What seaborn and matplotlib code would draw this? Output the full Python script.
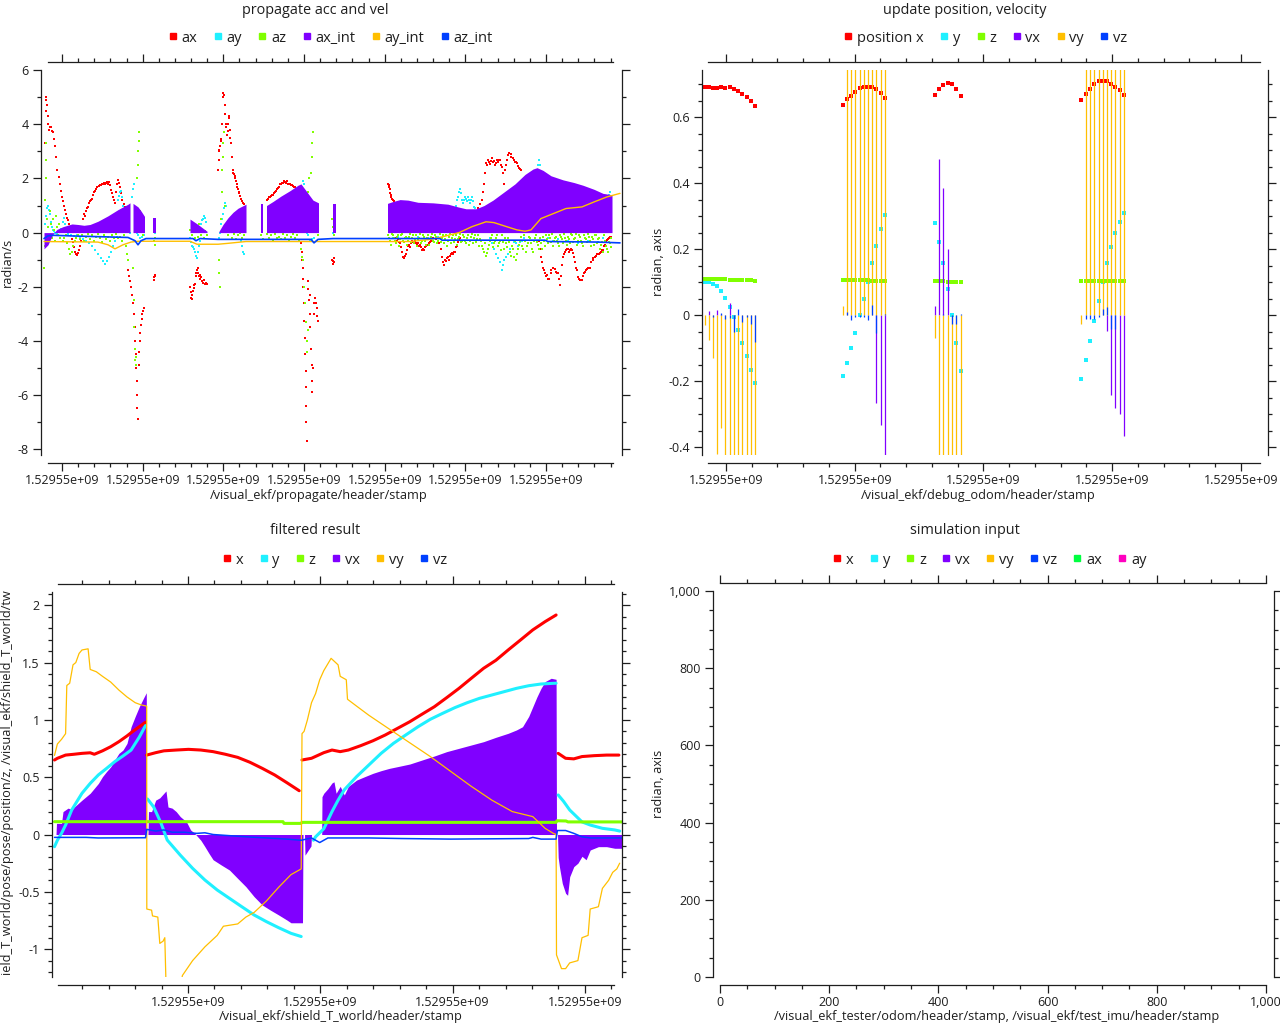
import numpy as np
import matplotlib
matplotlib.use("Agg")
import matplotlib.pyplot as plt
import seaborn as sns
from matplotlib.ticker import FixedLocator, MultipleLocator, FuncFormatter
from matplotlib.lines import Line2D
from matplotlib.transforms import Bbox, TransformedBbox

# ---------------------------------------------------------------- data
STAMP_BASE = 1529550000.0   # header stamps (s); series below are offsets in s

# ---- propagate acc and vel (offset s, value)
AX_PTS = [
(-0.29,3.3),(-0.25,4.5),(-0.21,5.0),(-0.17,4.9),(-0.09,4.7),(0.0,4.3),(0.04,4.0),(0.12,3.8),(0.2,3.9),(0.33,3.9),(0.43,3.75),(0.53,3.7),(0.63,3.45),(0.74,3.2),(0.84,2.8),(0.94,2.3),(1.05,2.05),(1.15,1.8),(1.25,1.55),(1.35,1.3),(1.45,1.15),(1.56,1.0),(1.66,0.85),(1.76,0.7),(1.87,0.55),(1.97,0.45),(2.07,0.3),(2.17,0.1),(2.3,-0.1),(2.4,-0.25),(2.5,-0.35),(2.6,-0.55),(2.7,-0.7),(2.79,-0.8),(2.9,-0.82),(2.99,-0.75),(3.1,-0.65),(3.2,-0.5),(3.3,-0.3),(3.4,0.2),(3.5,0.5),(3.61,0.7),(3.71,0.62),(3.81,0.8),(3.92,0.9),(4.02,0.95),(4.12,1.1),(4.23,1.15),(4.33,1.2),(4.43,1.25),(4.53,1.4),(4.64,1.5),(4.74,1.55),(4.84,1.6),(4.94,1.7),(5.05,1.72),(5.15,1.75),(5.25,1.75),(5.35,1.8),(5.46,1.78),(5.56,1.82),(5.66,1.8),(5.76,1.85),(5.87,1.88),(5.97,1.8),(6.07,1.88),(6.17,1.75),(6.27,1.57),(6.38,1.45),(6.48,1.32),(6.58,1.2),(6.68,1.08),(6.8,1.5),(6.9,1.8),(7.01,1.95),(7.09,1.85),(7.17,1.7),(7.3,1.45),(7.42,1.2),(7.55,1.05),(7.71,0.95),
(7.99,-1.4),(8.1,-1.6),(8.16,-1.8),(8.28,-2.0),(8.4,-2.3),(8.5,-2.6),(8.61,-3.0),(8.67,-3.5),(8.73,-4.0),(8.77,-4.5),(8.81,-5.0),(8.85,-5.5),(8.89,-6.0),(8.94,-6.5),(8.98,-6.9),(9.06,-4.9),(9.14,-4.4),(9.18,-4.0),(9.22,-3.7),(9.3,-3.4),(9.35,-3.2),(9.42,-3.0),(9.47,-2.9),(9.55,-2.8),
(10.58,-1.75),(10.62,-1.65),(10.66,-1.6),(10.7,-1.55),
(14.18,-2.0),(14.25,-2.2),(14.3,-2.4),(14.35,-2.45),(14.42,-2.3),(14.47,-2.15),(14.55,-2.05),(14.62,-1.95),(14.68,-1.9),(14.75,-1.6),(14.82,-1.5),(14.88,-1.4),(14.95,-1.3),(15.02,-1.5),(15.09,-1.6),(15.15,-1.55),(15.22,-1.7),(15.29,-1.65),(15.4,-1.8),(15.5,-1.85),(15.6,-1.75),(15.7,-1.9),(15.8,-1.85),(15.91,-1.9),
(17.01,2.3),(17.05,2.7),(17.1,3.0),(17.14,3.05),(17.2,3.2),(17.26,3.4),(17.34,3.45),(17.4,4.0),(17.46,5.0),(17.52,5.15),(17.59,5.1),(17.65,4.7),(17.71,4.4),(17.77,4.0),(17.83,3.9),(17.9,3.6),(17.95,3.75),(18.0,4.0),(18.06,4.25),(18.1,4.3),(18.16,3.8),(18.22,3.5),(18.3,3.3),(18.37,2.8),(18.45,2.3),(18.5,2.2),(18.57,2.15),(18.65,2.1),(18.72,2.0),(18.78,1.9),(18.85,1.8),(18.92,1.7),(18.98,1.6),(19.05,1.5),(19.12,1.45),(19.19,1.35),(19.27,1.25),(19.39,1.15),(19.5,1.1),(19.6,1.05),
(21.85,1.2),(21.95,1.25),(22.05,1.3),(22.16,1.3),(22.26,1.35),(22.36,1.4),(22.47,1.4),(22.57,1.45),(22.67,1.5),(22.77,1.55),(22.88,1.6),(22.98,1.65),(23.08,1.7),(23.18,1.78),(23.29,1.8),(23.39,1.85),(23.49,1.82),(23.59,1.9),(23.7,1.88),(23.8,1.85),(23.9,1.9),(24.0,1.8),(24.1,1.78),(24.2,1.8),(24.31,1.76),(24.41,1.75),(24.51,1.72),(24.61,1.7),(24.72,1.7),
(25.34,-0.4),(25.38,-0.7),(25.42,-1.0),(25.46,-1.3),(25.5,-1.7),(25.54,-2.0),(25.58,-2.6),(25.62,-3.25),(25.66,-3.9),(25.7,-4.5),(25.75,-5.1),(25.79,-5.7),(25.81,-6.4),(25.83,-7.0),(25.86,-7.7),(25.95,-1.8),(26.02,-2.1),(26.08,-2.5),(26.16,-2.3),(26.2,-3.0),(26.24,-3.5),(26.3,-4.3),(26.36,-4.9),(26.4,-5.5),(26.44,-5.9),(26.5,-5.0),(26.57,-3.0),(26.62,-2.6),(26.68,-2.4),(26.77,-2.6),(26.85,-2.8),(26.9,-3.1),(26.98,-3.25),
(28.4,-1.0),(28.45,-1.05),(28.5,-1.15),(28.55,-1.1),(28.6,-0.95),
(33.99,1.8),(34.05,1.75),(34.1,1.7),(34.15,1.6),(34.2,1.45),(34.26,1.4),(34.31,1.3),(34.36,1.25),(34.45,1.2),(34.56,1.15),(34.6,0.8),(34.65,0.4),(34.7,0.1),
(34.77,-0.2),(34.87,-0.3),(34.97,-0.25),(35.08,-0.35),(35.18,-0.4),(35.3,-0.55),(35.4,-0.7),(35.5,-0.9),(35.6,-0.95),(35.7,-0.85),(35.79,-0.8),(35.9,-0.65),(36.0,-0.5),(36.1,-0.45),(36.2,-0.53),(36.3,-0.4),(36.4,-0.3),(36.5,-0.35),(36.61,-0.35),(36.72,-0.3),(36.82,-0.38),(36.92,-0.45),(37.02,-0.4),(37.12,-0.5),(37.23,-0.45),(37.33,-0.55),(37.43,-0.65),(37.54,-0.6),(37.64,-0.65),(37.74,-0.55),(37.84,-0.5),(37.95,-0.45),(38.05,-0.4),(38.15,-0.35),(38.3,-0.3),(38.5,-0.2),(38.8,-0.25),(39.1,-0.4),(39.28,-0.6),(39.38,-0.9),(39.48,-1.1),(39.58,-1.2),(39.69,-1.0),(39.79,-1.05),(39.89,-0.95),(39.99,-0.9),(40.1,-1.0),(40.2,-0.85),(40.3,-0.8),(40.4,-0.75),(40.5,-0.8),(40.61,-0.7),(40.71,-0.7),(40.81,-0.55),(40.92,-0.5),(41.0,-0.35),(41.1,-0.25),(41.2,-0.2),
(42.5,0.3),(42.8,0.6),(43.0,0.9),(43.2,1.05),(43.38,1.2),(43.48,1.5),(43.58,1.8),(43.69,2.2),(43.79,2.56),(43.89,2.5),(43.99,2.7),(44.1,2.6),(44.2,2.55),(44.3,2.65),(44.4,2.75),(44.5,2.6),(44.6,2.65),(44.71,2.5),(44.81,2.56),(44.91,2.7),(45.01,2.6),(45.12,2.7),(45.22,2.7),(45.32,2.5),(45.43,2.44),(45.53,2.2),(45.63,1.8),(45.73,2.3),(45.83,2.5),(45.94,2.7),(46.04,2.87),(46.14,2.93),(46.25,2.9),(46.35,2.8),(46.45,2.75),(46.55,2.7),(46.66,2.6),(46.76,2.6),(46.86,2.56),(46.96,2.45),(47.07,2.4),(47.17,2.35),(47.27,2.3),
(49.12,-0.3),(49.2,-0.6),(49.3,-0.9),(49.4,-1.1),(49.5,-1.3),(49.6,-1.4),(49.73,-1.5),(49.84,-1.6),(49.94,-1.55),(50.04,-1.7),(50.14,-1.7),(50.25,-1.5),(50.35,-1.4),(50.45,-1.3),(50.55,-1.3),(50.65,-1.35),(50.76,-1.45),(50.86,-1.5),(50.96,-1.5),(51.06,-1.7),(51.17,-1.95),(51.27,-1.6),(51.37,-1.2),(51.47,-0.9),(51.58,-0.8),(51.7,-0.7),(51.8,-0.65),(51.9,-0.6),(51.99,-0.6),(52.1,-0.7),(52.2,-0.65),(52.3,-0.6),(52.4,-0.65),(52.5,-0.75),(52.6,-0.9),(52.7,-1.1),(52.8,-1.3),(52.9,-1.4),(53.01,-1.65),(53.11,-1.7),(53.21,-1.75),(53.32,-1.75),(53.42,-1.77),(53.52,-1.6),(53.62,-1.5),(53.73,-1.45),(53.83,-1.4),(53.93,-1.35),(54.03,-1.3),(54.14,-1.3),(54.24,-1.3),(54.34,-1.1),(54.45,-1.0),(54.55,-0.95),(54.65,-0.9),(54.75,-0.85),(54.86,-0.8),(54.96,-0.8),(55.06,-0.8),(55.16,-0.75),(55.27,-0.7),(55.37,-0.65),(55.47,-0.65),(55.57,-0.5),(55.68,-0.45),(55.78,-0.35),(55.88,-0.28),(55.98,-0.25),(56.09,-0.2),(56.19,-0.16),(56.29,-0.16),
]

AY_PTS = [
(-0.29,0.3),(-0.2,0.6),(-0.1,0.9),(0.0,1.0),(0.08,0.85),(0.16,0.7),(0.25,0.4),(0.35,0.2),(0.45,0.1),(0.55,0.05),(0.7,0.0),(0.9,-0.05),(1.1,0.05),(1.3,0.15),(1.5,0.4),(1.6,0.55),(1.7,0.3),(1.8,0.1),
(2.0,-0.05),(2.3,-0.1),(2.6,-0.12),(2.9,-0.1),(3.2,-0.15),(3.5,-0.25),(3.8,-0.3),(4.1,-0.4),(4.4,-0.5),(4.7,-0.65),(5.0,-0.8),(5.3,-0.95),(5.5,-1.05),(5.7,-1.15),(5.9,-1.05),(6.1,-0.9),(6.3,-0.7),(6.5,-0.5),(6.7,-0.3),(6.85,-0.15),
(6.95,1.2),(7.05,1.35),(7.15,1.5),(7.25,1.55),(7.35,1.3),(7.5,1.0),(7.65,0.8),(7.8,0.5),(8.0,0.3),(8.2,0.0),(8.4,1.3),(8.5,1.6),(8.6,1.8),(8.75,0.2),(8.9,0.0),(9.0,-0.1),(9.2,-0.2),(9.4,-0.15),(9.6,-0.1),(10.58,0.2),(10.7,0.0),
(14.18,-0.2),(14.25,-0.35),(14.35,-0.5),(14.45,-0.55),(14.55,-0.6),(14.65,-0.7),(14.75,-0.85),(14.85,-0.95),(14.95,-0.7),(15.05,-0.5),(15.15,-0.3),(15.3,0.3),(15.4,0.45),(15.5,0.5),(15.6,0.6),(15.7,0.55),(15.8,0.4),
(17.1,-0.2),(17.2,0.0),(17.3,0.3),(17.4,0.5),(17.5,0.7),(17.6,0.9),(17.7,1.1),(17.8,1.0),(19.3,-0.3),(19.4,-0.5),(19.5,-0.7),(19.6,-0.8),
(25.5,1.9),(25.6,1.8),(25.7,1.5),(25.8,1.3),(25.9,0.0),(26.0,-0.1),(26.2,-0.3),(26.4,-0.25),(26.6,-0.2),(28.5,0.0),(28.6,-0.1),
(34.0,-0.1),(34.5,-0.2),(35.0,-0.15),(36.0,-0.2),(37.0,-0.15),(38.0,-0.2),(39.0,-0.15),
(40.8,1.0),(40.9,1.2),(41.0,1.3),(41.1,1.5),(41.2,1.6),(41.3,1.45),(41.4,1.2),(41.5,1.1),(41.6,1.2),(41.7,1.3),(41.8,1.25),(41.9,1.15),(42.0,1.3),(42.1,1.2),(42.2,1.1),(42.3,1.2),(42.4,1.3),(42.5,1.15),(42.6,0.95),(42.7,0.9),
(44.2,-0.2),(44.4,-0.4),(44.6,-0.6),(44.8,-0.8),(45.0,-0.95),(45.2,-1.1),(45.4,-1.4),(45.5,-1.2),(45.6,-1.0),(45.8,-0.9),(46.0,-0.8),(46.2,-0.6),(46.4,-0.5),(46.6,-0.35),(46.8,-0.4),(47.0,-0.5),(47.2,-0.35),(47.4,-0.3),(47.6,-0.2),
(49.0,2.3),(49.05,2.5),(49.1,2.7),(49.2,2.5),
(50.0,-0.2),(50.5,-0.3),(51.0,-0.25),(51.5,-0.35),(52.0,-0.3),(53.0,-0.4),(54.0,-0.3),(55.0,-0.35),(55.5,-0.2),(56.1,1.4),(56.2,1.5),
]

AZ_PTS = [
(-0.37,-1.3),(-0.33,-0.5),(-0.29,1.2),(-0.25,2.0),(-0.21,2.7),(-0.17,3.3),(-0.13,0.5),(-0.05,0.2),(0.05,-0.3),(0.15,0.8),(0.25,0.3),(0.35,-0.2),(0.45,0.5),(0.55,0.1),(0.65,-0.3),(0.75,0.6),(0.85,0.2),(0.95,-0.1),(1.05,0.3),(1.15,-0.2),(1.3,0.1),(1.45,-0.3),(1.6,-0.2),(1.75,-0.1),(1.9,-0.4),(2.05,-0.6),(2.2,-0.8),(2.35,-0.7),(2.5,-0.5),(2.65,-0.3),(2.8,-0.2),(3.0,-0.1),(3.2,-0.25),(3.4,-0.1),(3.6,-0.3),(3.8,-0.15),(4.0,-0.05),(4.2,-0.25),(4.4,-0.1),(4.6,-0.3),(4.8,-0.15),(5.0,-0.05),(5.2,-0.2),(5.4,-0.35),(5.6,-0.1),(5.8,-0.25),(6.0,-0.15),(6.2,-0.3),(6.4,-0.1),(6.6,-0.2),(6.8,-0.05),(7.0,-0.2),(7.2,-0.15),(7.4,-0.3),(7.6,-0.1),(7.8,-0.5),(7.9,-0.8),(8.0,-1.0),
(8.5,-1.3),(8.55,-2.5),(8.6,-3.5),(8.65,-4.3),(8.7,-4.7),(8.75,-4.9),(8.8,-4.6),(8.9,2.0),(8.95,2.5),(9.0,3.0),(9.05,3.4),(9.1,3.7),(9.15,0.8),(9.25,0.4),(9.35,0.1),(9.45,-0.1),(9.55,0.2),(10.58,-0.3),(10.65,-0.45),(10.72,-0.2),
(14.2,0.1),(14.35,-0.1),(14.5,0.2),(14.65,-0.2),(14.8,0.05),(14.95,-0.15),(15.1,0.3),(15.25,-0.1),(15.4,0.1),(15.55,-0.2),(15.7,0.05),(15.85,-0.1),
(17.05,-1.0),(17.12,-1.5),(17.18,-2.0),(17.3,0.5),(17.35,1.5),(17.42,2.3),(17.48,2.8),(17.54,3.3),(17.6,3.7),(17.7,1.0),(17.85,0.2),(18.0,-0.1),(18.2,0.1),(18.4,-0.2),(18.6,-0.05),(18.8,-0.25),(19.0,-0.1),(19.2,0.0),(19.4,-0.2),(19.6,-0.1),
(21.3,-0.1),(21.45,-0.25),(21.9,-0.05),(22.1,-0.2),(22.3,-0.1),(22.5,-0.3),(22.7,-0.05),(22.9,-0.2),(23.1,-0.15),(23.3,-0.25),(23.5,-0.05),(23.7,-0.2),(23.9,-0.1),(24.1,-0.3),(24.3,-0.15),(24.5,-0.05),(24.7,-0.2),(24.9,-0.1),(25.1,-0.3),(25.3,-0.6),(25.4,-0.9),(25.5,-1.0),(25.62,-2.0),(25.7,-2.6),(25.78,-3.3),(25.85,-4.0),(25.9,-4.4),(25.95,-3.6),(26.0,1.5),(26.05,2.0),(26.3,2.2),(26.36,2.8),(26.42,3.3),(26.48,3.7),(26.55,1.0),(26.7,0.2),(26.9,-0.3),(27.0,-0.1),
(28.4,0.5),(28.5,0.2),(28.6,-0.1),
(34.0,-0.1),(34.2,-0.3),(34.4,-0.05),(34.6,-0.2),(34.8,-0.4),(35.0,-0.1),(35.2,-0.25),(35.4,-0.05),(35.6,-0.35),(35.8,-0.15),(36.0,-0.3),(36.2,-0.05),(36.4,-0.2),(36.6,-0.4),(36.8,-0.1),(37.0,-0.25),(37.2,-0.05),(37.4,-0.3),(37.6,-0.15),(37.8,-0.45),(38.0,-0.1),(38.2,-0.25),(38.4,-0.05),(38.6,-0.35),(38.8,-0.15),(39.0,-0.3),(39.2,-0.05),(39.4,-0.2),(39.6,-0.4),(39.8,-0.1),(40.0,-0.3),(40.2,-0.05),(40.4,-0.2),(40.6,-0.35),(40.8,-0.1),(41.0,-0.25),(41.2,-0.05),(41.4,-0.3),(41.6,-0.15),(41.8,-0.4),(42.0,-0.1),(42.2,-0.3),(42.4,-0.05),(42.6,-0.2),(42.8,-0.35),(43.0,-0.1),(43.2,-0.25),(43.4,-0.5),(43.6,-0.7),(43.8,-0.85),(44.0,-0.6),(44.2,-0.3),(44.4,-0.1),(44.6,-0.4),(44.8,-0.2),(45.0,-0.5),(45.2,-0.3),(45.4,-0.1),(45.6,-0.6),(45.8,-0.4),(46.0,-0.2),(46.2,-0.7),(46.4,-0.5),(46.6,-0.9),(46.8,-1.0),(47.0,-0.6),(47.2,-0.3),(47.4,-0.5),(47.6,-0.1),(47.8,-0.7),(48.0,-0.4),(48.2,-0.2),(48.4,-0.6),(48.6,-0.3),(48.8,-0.1),(49.0,-0.45),(49.2,-0.2),(49.4,-0.6),(49.6,-0.3),(49.8,-0.1),(50.0,-0.4),(50.2,-0.2),(50.4,-0.05),(50.6,-0.3),(50.8,-0.15),(51.0,-0.4),(51.2,-0.1),(51.4,-0.25),(51.6,-0.05),(51.8,-0.3),(52.0,-0.15),(52.2,-0.4),(52.4,-0.1),(52.6,-0.25),(52.8,-0.05),(53.0,-0.3),(53.2,-0.15),(53.4,-0.4),(53.6,-0.1),(53.8,-0.25),(54.0,-0.05),(54.2,-0.3),(54.4,-0.15),(54.6,-0.45),(54.8,-0.1),(55.0,-0.25),(55.2,-0.6),(55.4,-0.35),(55.6,-0.1),(55.8,-0.5),(56.0,-0.7),(56.2,-0.4),(56.35,-0.2),
(34.1,-0.2),(34.3,-0.45),(34.5,-0.1),(34.7,-0.3),(34.9,-0.15),(35.1,-0.5),(35.3,-0.1),(35.5,-0.3),(35.7,-0.2),(35.9,-0.45),(36.1,-0.15),(36.3,-0.35),(36.5,-0.1),(36.7,-0.25),(36.9,-0.5),(37.1,-0.2),(37.3,-0.4),(37.5,-0.1),(37.7,-0.3),(37.9,-0.2),(38.1,-0.45),(38.3,-0.15),(38.5,-0.3),(38.7,-0.1),(38.9,-0.4),(39.1,-0.2),(39.3,-0.35),(39.5,-0.1),(39.7,-0.25),(39.9,-0.5),(40.1,-0.15),(40.3,-0.4),(40.5,-0.1),(40.7,-0.25),(40.9,-0.45),(41.1,-0.15),(41.3,-0.35),(41.5,-0.1),(41.7,-0.3),(41.9,-0.2),(42.1,-0.45),(42.3,-0.15),(42.5,-0.4),(42.7,-0.1),(42.9,-0.25),(43.1,-0.5),(43.3,-0.3),(43.5,-0.6),(43.7,-0.4),(43.9,-0.75),(44.1,-0.45),(44.3,-0.2),(44.5,-0.55),(44.7,-0.3),(44.9,-0.1),(45.1,-0.4),(45.3,-0.65),(45.5,-0.35),(45.7,-0.2),(45.9,-0.55),(46.1,-0.35),(46.3,-0.85),(46.5,-0.6),(46.7,-0.3),(46.9,-0.8),(47.1,-0.45),(47.3,-0.15),(47.5,-0.6),(47.7,-0.3),(47.9,-0.5),(48.1,-0.15),(48.3,-0.4),(48.5,-0.7),(48.7,-0.2),(48.9,-0.35),(49.1,-0.6),(49.3,-0.4),(49.5,-0.15),(49.7,-0.5),(49.9,-0.25),(50.1,-0.1),(50.3,-0.35),(50.5,-0.5),(50.7,-0.2),(50.9,-0.3),(51.1,-0.5),(51.3,-0.15),(51.5,-0.4),(51.7,-0.2),(51.9,-0.45),(52.1,-0.25),(52.3,-0.05),(52.5,-0.35),(52.7,-0.2),(52.9,-0.45),(53.1,-0.1),(53.3,-0.3),(53.5,-0.5),(53.7,-0.2),(53.9,-0.35),(54.1,-0.15),(54.3,-0.5),(54.5,-0.25),(54.7,-0.1),(54.9,-0.4),(55.1,-0.2),(55.3,-0.45),(55.5,-0.7),(55.7,-0.3),(55.9,-0.6),(56.1,-0.35),(56.3,-0.55),
]

# None marks a break between message bursts
AXINT_PTS = [
(-0.4,-0.6),(0.0,-0.45),(0.3,-0.2),(0.6,0.0),(0.9,0.12),(1.5,0.22),(2.4,0.32),(3.0,0.3),(3.6,0.27),(4.2,0.3),(5.0,0.42),(6.0,0.62),(7.0,0.85),(8.0,1.05),(8.2,1.1), None,
(8.5,1.08),(9.0,0.95),(9.3,0.8),(9.65,0.6), None,
(10.5,0.55),(10.8,0.55), None,
(14.2,0.5),(15.0,0.3),(15.9,0.05), None,
(17.1,0.05),(17.5,0.3),(18.0,0.55),(18.5,0.75),(19.0,0.9),(19.8,1.05), None,
(21.3,1.05),(21.5,1.05), None,
(21.85,1.0),(22.5,1.15),(23.3,1.35),(24.2,1.55),(25.0,1.75),(25.3,1.8),(25.8,1.55),(26.5,1.2),(27.05,1.1), None,
(28.5,1.05),(28.8,1.05), None,
(33.95,1.08),(34.5,1.15),(35.2,1.22),(36.0,1.2),(37.0,1.12),(38.5,1.1),(40.0,1.05),(41.0,0.95),(41.8,0.88),(42.8,0.88),(43.6,1.0),(44.5,1.2),(45.6,1.5),(46.7,1.8),(47.7,2.15),(48.5,2.35),(48.9,2.4),(49.5,2.3),(50.3,2.1),(51.5,1.95),(52.6,1.85),(53.5,1.75),(54.6,1.6),(55.5,1.45),(56.4,1.4),
]

AYINT_PTS = [
(-0.4,-0.33),(5.0,-0.35),(6.0,-0.45),(6.7,-0.6),(7.5,-0.45),(8.3,-0.35),(9.0,-0.32),(14.2,-0.32),(14.9,-0.43),(17.0,-0.43),(17.9,-0.4),(19.8,-0.33),(36.2,-0.33),(38.3,-0.25),(39.5,-0.15),(41.1,0.0),(42.4,0.22),(43.8,0.4),(44.6,0.37),(45.6,0.25),(46.9,0.1),(47.7,0.05),(48.3,0.1),(49.3,0.52),(51.8,0.89),(53.4,0.95),(54.65,1.14),(55.9,1.32),(57.2,1.45),
]

AZINT_PTS = [
(-0.4,-0.22),(0.0,-0.12),(0.5,-0.1),(3.0,-0.13),(8.0,-0.18),(8.7,-0.3),(9.0,-0.45),(9.3,-0.3),(9.8,-0.22),(14.5,-0.22),(14.8,-0.3),(15.2,-0.22),(17.0,-0.25),(26.3,-0.25),(26.6,-0.38),(27.0,-0.25),(28.5,-0.22),(39.2,-0.22),(39.4,-0.28),(49.7,-0.28),(50.0,-0.33),(55.0,-0.35),(57.2,-0.38),
]

# ---- update position, velocity (debug_odom messages)
ODOM_T = [-0.32,0.09,0.5,0.9,1.31,1.72,2.22,2.63,3.04,3.45,3.86,4.27,4.68,
          13.49,13.9,14.31,14.72,15.21,15.62,16.03,16.44,16.85,17.26,17.67,
          22.71,23.12,23.53,23.98,24.43,24.84,25.29,
          37.34,37.79,38.2,38.61,39.06,39.51,39.92,40.33,40.74,41.15,41.6]
ODOM_X = [0.692,0.692,0.69,0.688,0.691,0.688,0.692,0.685,0.679,0.672,0.661,0.65,0.633,
          0.636,0.654,0.665,0.677,0.689,0.692,0.692,0.692,0.687,0.674,0.659,
          0.667,0.685,0.697,0.704,0.70,0.685,0.664,
          0.652,0.67,0.687,0.702,0.71,0.71,0.71,0.70,0.692,0.682,0.669]
ODOM_Y = [0.101,0.10,0.095,0.088,0.074,0.053,0.025,-0.005,-0.045,-0.084,-0.124,-0.167,-0.205,
          -0.185,-0.145,-0.10,-0.054,0.0,0.048,0.10,0.159,0.21,0.262,0.303,
          0.28,0.222,0.157,0.08,0.002,-0.084,-0.17,
          -0.193,-0.135,-0.078,-0.017,0.043,0.101,0.159,0.207,0.25,0.283,0.311]
ODOM_Z = [0.11,0.11,0.11,0.11,0.11,0.11,0.108,0.107,0.107,0.107,0.107,0.107,0.104,
          0.106,0.106,0.106,0.106,0.106,0.106,0.106,0.105,0.105,0.104,0.104,
          0.103,0.103,0.103,0.102,0.102,0.10,0.10,
          0.103,0.103,0.103,0.103,0.103,0.103,0.103,0.104,0.104,0.104,0.104]
ODOM_VX = [0.0,0.012,0.0,0.017,0.005,0.0,0.037,-0.01,0.0,0.0,0.0,0.0,0.0,
           0.0,0.0,0.0,0.0,0.0,0.0,0.0,0.0,-0.266,-0.333,-0.6,
           0.028,0.475,0.385,0.2,0.0,0.0,0.0,
           0.0,0.0,0.0,0.0,0.0,0.0,-0.048,-0.24,-0.28,-0.30,-0.365]
ODOM_VY = [-0.03,-0.075,-0.13,-0.42,-0.34,-0.6,-0.6,-0.6,-0.6,-0.6,-0.6,-0.6,-0.6,
           0.027,0.9,0.9,0.9,0.9,0.9,0.9,0.9,0.9,0.9,0.9,
           -0.07,-0.6,-0.6,-0.6,-0.6,-0.6,-0.6,
           -0.025,0.9,0.9,0.9,0.9,0.9,0.9,0.9,0.9,0.9,0.9]
ODOM_VZ = [0.0,0.0,-0.005,0.0,0.008,-0.01,-0.008,-0.05,0.02,-0.02,-0.005,-0.025,-0.08,
           0.0,0.01,-0.015,-0.005,-0.005,-0.005,-0.015,0.03,-0.055,0.0,0.003,
           0.0,0.0,0.003,0.0,-0.025,-0.025,0.003,
           0.0,-0.012,-0.01,-0.01,-0.005,0.018,0.025,-0.04,-0.04,0.0,0.0]

# ---- filtered result (shield_T_world)
F_X_PTS = [
(-0.35,0.65),(-0.06,0.665),(0.76,0.693),(1.58,0.70),(2.4,0.708),(3.22,0.713),(3.63,0.70),(4.45,0.73),(5.27,0.766),(6.09,0.81),(6.9,0.86),(7.31,0.888),(8.75,0.98), None,
(8.87,0.693),(9.77,0.714),(10.59,0.73),(11.82,0.737),(13.05,0.743),(14.28,0.737),(15.51,0.723),(16.74,0.70),(17.97,0.673),(19.2,0.63),(20.43,0.577),(21.66,0.52),(22.89,0.452),(24.12,0.382), None,
(24.4,0.65),(25.35,0.665),(26.58,0.714),(27.4,0.737),(28.22,0.723),(29.04,0.737),(30.27,0.775),(31.5,0.818),(32.72,0.868),(33.95,0.926),(35.18,0.984),(36.41,1.05),(37.64,1.115),(38.87,1.194),(40.1,1.275),(41.33,1.363),(42.56,1.45),(43.79,1.52),(45.02,1.61),(46.25,1.697),(47.48,1.785),(48.71,1.857),(49.81,1.915), None,
(50.02,0.708),(50.76,0.665),(51.58,0.66),(52.4,0.68),(53.63,0.688),(54.86,0.693),(56.09,0.693),
]
F_Y_PTS = [
(-0.35,-0.106),(-0.06,-0.05),(0.35,0.01),(0.76,0.083),(1.37,0.214),(2.4,0.36),(3.22,0.446),(4.04,0.52),(4.86,0.577),(5.68,0.636),(6.5,0.685),(7.31,0.737),(8.13,0.85),(8.75,0.95), None,
(8.95,0.31),(9.57,0.24),(10.3,0.1),(10.92,-0.048),(12.23,-0.18),(13.46,-0.295),(14.69,-0.397),(15.92,-0.484),(17.15,-0.557),(18.38,-0.63),(19.61,-0.702),(20.84,-0.76),(22.07,-0.813),(23.3,-0.862),(24.32,-0.89), None,
(25.55,-0.05),(25.76,-0.02),(26.58,0.05),(27.4,0.2),(28.01,0.3),(28.63,0.39),(29.86,0.505),(31.09,0.607),(32.31,0.708),(33.54,0.795),(34.77,0.868),(36.0,0.94),(37.23,1.005),(38.46,1.057),(39.69,1.107),(40.92,1.15),(42.15,1.188),(43.38,1.217),(44.61,1.246),(45.84,1.275),(47.07,1.298),(48.3,1.313),(49.53,1.319),(49.81,1.32), None,
(50.02,0.345),(50.55,0.29),(51.17,0.214),(52.4,0.11),(53.22,0.083),(54.44,0.054),(55.67,0.04),(56.17,0.03),
]
F_Z_PTS = [
(-0.35,0.112),(22.5,0.112),(22.6,0.097),(24.3,0.097),(24.4,0.106),(49.8,0.106),(49.9,0.12),(50.8,0.118),(51.0,0.11),(56.4,0.11),
]
F_VX_PTS = [
(-0.2,0.0),(-0.15,0.097),(0.35,0.097),(0.5,0.2),(1.0,0.23),(1.37,0.22),(2.4,0.3),(3.22,0.36),(4.04,0.446),(4.45,0.505),(4.86,0.55),(5.27,0.59),(5.68,0.65),(6.09,0.708),(6.5,0.737),(6.9,0.795),(7.31,0.94),(7.72,1.03),(8.13,1.115),(8.54,1.188),(8.83,1.237),(8.86,0.0), None,
(9.0,0.0),(9.05,0.2),(9.36,0.2),(9.77,0.3),(10.18,0.32),(10.59,0.36),(10.8,0.38),(11.0,0.24),(11.41,0.23),(11.82,0.2),(12.23,0.156),(12.85,0.11),(13.26,0.04),(13.67,0.01),(14.28,-0.05),(14.69,-0.106),(15.1,-0.165),(15.51,-0.22),(16.33,-0.266),(17.15,-0.31),(17.97,-0.383),(18.79,-0.455),(19.61,-0.542),(20.43,-0.615),(21.25,-0.66),(22.07,-0.702),(22.89,-0.746),(23.3,-0.77),(24.45,-0.77),(24.5,0.0), None,
(24.65,0.0),(24.7,-0.18),(25.3,-0.1),(25.35,0.0), None,
(26.37,0.0),(26.4,0.33),(26.58,0.36),(26.99,0.4),(27.4,0.45),(27.6,0.46),(27.81,0.36),(28.22,0.42),(28.63,0.345),(29.04,0.42),(29.86,0.475),(30.68,0.505),(31.5,0.534),(32.31,0.557),(33.13,0.577),(33.95,0.592),(35.18,0.615),(36.41,0.65),(37.64,0.685),(38.87,0.723),(40.1,0.752),(41.33,0.781),(42.56,0.81),(43.79,0.848),(45.02,0.883),(45.84,0.912),(46.45,0.94),(47.07,1.03),(47.48,1.115),(47.89,1.2),(48.3,1.275),(48.71,1.334),(49.32,1.363),(49.81,1.354),(49.85,0.0), None,
(49.95,0.0),(50.02,-0.2),(50.14,-0.28),(50.43,-0.426),(50.76,-0.513),(50.96,-0.53),(51.17,-0.368),(51.58,-0.28),(51.99,-0.25),(52.4,-0.19),(52.81,-0.22),(53.22,-0.135),(54.04,-0.106),(54.86,-0.106),(55.67,-0.12),(56.4,-0.12),
]
F_VY_PTS = [
(-0.35,0.69),(-0.06,0.79),(0.35,0.83),(0.76,0.88),(0.88,1.3),(1.17,1.32),(1.5,1.48),(1.78,1.5),(2.11,1.58),(2.4,1.61),(3.01,1.62),(3.22,1.44),(3.83,1.42),(4.45,1.38),(5.27,1.33),(6.09,1.26),(6.9,1.2),(7.72,1.15),(8.34,1.13),(8.87,1.12),(8.88,-0.65),(9.36,-0.66),(9.45,-0.71),(9.98,-0.72),(10.18,-0.95),(10.51,-0.93),(10.68,-0.9),(10.8,-1.3), None,
(12.3,-1.3),(12.44,-1.23),(13.46,-1.1),(14.69,-0.98),(15.92,-0.88),(16.54,-0.8),(17.97,-0.78),(18.79,-0.72),(19.61,-0.68),(20.84,-0.58),(22.07,-0.46),(23.3,-0.35),(24.32,-0.3),(24.4,0.88),(24.61,0.9),(24.94,1.0),(25.35,1.15),(25.76,1.23),(26.17,1.35),(26.58,1.43),(26.99,1.49),(27.31,1.537),(28.01,1.48),(28.22,1.38),(28.83,1.35),(28.95,1.18),(29.86,1.12),(31.09,1.04),(33.13,0.92),(35.18,0.8),(37.23,0.68),(39.28,0.55),(41.33,0.42),(43.38,0.3),(45.43,0.2),(47.48,0.156),(48.71,0.054),(49.53,0.01),(49.81,0.0),(49.85,-1.05),(50.35,-1.17),(50.76,-1.17),(51.17,-1.12),(51.99,-1.1),(52.4,-0.9),(53.01,-0.88),(53.22,-0.65),(54.04,-0.63),(54.44,-0.47),(55.06,-0.4),(55.47,-0.33),(55.88,-0.3),(56.17,-0.25),
]
F_VZ_PTS = [
(-0.35,-0.025),(2.81,-0.025),(4.0,-0.03),(8.75,-0.028),(8.87,0.045),(9.77,0.03),(10.59,0.04),(11.41,0.02),(12.64,0.02),(13.87,0.01),(14.69,0.015),(15.51,0.0),(18.79,-0.02),(20.84,-0.03),(22.89,-0.04),(24.32,-0.05),(25.35,-0.03),(26.17,-0.07),(26.99,-0.03),(29.04,-0.03),(31.09,-0.03),(34.36,-0.035),(39.28,-0.04),(47.07,-0.035),(47.48,-0.025),(48.3,-0.04),(49.81,-0.04),(49.94,0.035),(50.76,0.035),(51.58,0.01),(52.4,-0.02),(53.22,-0.03),(56.4,-0.03),
]

# ---- texts
TITLES = ["propagate acc and vel", "update position, velocity", "filtered result", "simulation input"]
LEGEND_1 = ["ax", "ay", "az", "ax_int", "ay_int", "az_int"]
LEGEND_2 = ["position x", "y", "z", "vx", "vy", "vz"]
LEGEND_3 = ["x", "y", "z", "vx", "vy", "vz"]
LEGEND_4 = ["x", "y", "z", "vx", "vy", "vz", "ax", "ay"]
XLABELS = ["/visual_ekf/propagate/header/stamp", "/visual_ekf/debug_odom/header/stamp",
           "/visual_ekf/shield_T_world/header/stamp",
           "/visual_ekf_tester/odom/header/stamp, /visual_ekf/test_imu/header/stamp"]
# the third axis title is longer than its axis and shows clipped, as in the source
YLABELS = ["radian/s", "radian, axis",
           "/visual_ekf/shield_T_world/pose/pose/position/z, /visual_ekf/shield_T_world/twist/twist/linear/x",
           "radian, axis"]

# ---------------------------------------------------------------- style
sns.set_theme(style="white")
plt.rcParams["font.family"] = ["Open Sans", "DejaVu Sans"]
INK = "#1e1e1e"
RED, CYAN, GREEN, PURPLE, AMBER, BLUE, SPRING, ROSE = (
    "#ff0000", "#1ff0ff", "#80ff00", "#8000ff", "#ffbf00", "#0040ff", "#00ff40", "#ff00bf")

W, H = 1280, 1024
fig = plt.figure(figsize=(W / 100, H / 100), dpi=100)
fig.patch.set_facecolor("white")


def fx(px):
    return px / W


def fy(py):
    return 1 - py / H


def split(pts):
    segs, cur = [], []
    for p in pts:
        if p is None:
            if cur:
                segs.append(np.array(cur))
            cur = []
        else:
            cur.append(p)
    if cur:
        segs.append(np.array(cur))
    return segs


def dots(ax, pts, color, s=4.6):
    a = np.array([p for p in pts if p is not None])
    sns.scatterplot(x=STAMP_BASE + a[:, 0], y=a[:, 1], ax=ax, color=color, marker="s",
                    s=s, linewidth=0, legend=False)


def lines(ax, pts, color, lw):
    for seg in split(pts):
        sns.lineplot(x=STAMP_BASE + seg[:, 0], y=seg[:, 1], ax=ax, color=color, linewidth=lw,
                     estimator=None, sort=False, legend=False)


def area(ax, pts, color):
    for seg in split(pts):
        ax.fill_between(STAMP_BASE + seg[:, 0], 0, seg[:, 1], color=color, linewidth=0)


fmt_g = FuncFormatter(lambda v, p: "%g" % (round(v, 6) + 0.0))
fmt_comma = FuncFormatter(lambda v, p: f"{v:,.0f}")


def make_axes(canvas, backbone, xlim, ylim, xmaj, xmin, ymaj, ymin, xfmt, yfmt):
    x0, y0, x1, y1 = canvas
    ax = fig.add_axes([fx(x0), fy(y1), (x1 - x0) / W, (y1 - y0) / H])
    ax.set_facecolor("white")
    ax.grid(False)
    for name, sp in ax.spines.items():
        sp.set_visible(True)
        sp.set_color(INK)
        sp.set_linewidth(0.9)
    for name in ("top", "bottom"):
        ax.spines[name].set_position(("outward", 8 * 0.72))
        ax.spines[name].set_bounds(*backbone)
    ax.xaxis.set_major_locator(FixedLocator(xmaj))
    ax.xaxis.set_minor_locator(FixedLocator(xmin))
    ax.yaxis.set_major_locator(MultipleLocator(ymaj))
    ax.yaxis.set_minor_locator(MultipleLocator(ymin))
    ax.xaxis.set_major_formatter(xfmt)
    ax.yaxis.set_major_formatter(yfmt)
    ax.tick_params(which="both", direction="out", top=True, bottom=True, left=True, right=True,
                   labeltop=False, labelright=False, color=INK, width=0.9,
                   labelcolor=INK, labelsize=9)
    ax.tick_params(which="major", length=5.8)
    ax.tick_params(which="minor", length=2.9)
    ax.tick_params(axis="x", pad=2)
    ax.tick_params(axis="y", pad=3)
    ax._keep = (xlim, ylim)
    return ax


def finish(ax):
    xlim, ylim = ax._keep
    ax.set_xlim(*xlim)
    ax.set_ylim(*ylim)
    ax.set_xlabel("")
    ax.set_ylabel("")


def legend(labels, colors, cx, cy):
    handles = [Line2D([0], [0], marker="s", linestyle="", color=c, markersize=5.0, label=l)
               for l, c in zip(labels, colors)]
    fig.legend(handles=handles, loc="center", bbox_to_anchor=(fx(cx), fy(cy)),
               bbox_transform=fig.transFigure, ncol=len(handles), frameon=False,
               fontsize=10.5, handlelength=0.5, handletextpad=0.35, columnspacing=1.15,
               borderpad=0, borderaxespad=0, labelcolor=INK)


def stamp_ticks(first, step, nsub, lo, hi):
    maj = [STAMP_BASE + first + step * k for k in range(-5, 30)
           if lo - 1e-6 <= first + step * k <= hi + 1e-6]
    sub = step / nsub
    mnr = [STAMP_BASE + first + sub * k for k in range(-40, 200)
           if lo - 1e-6 <= first + sub * k <= hi + 1e-6]
    return maj, mnr


# ---------------------------------------------------------------- panel 1
maj, mnr = stamp_ticks(1.4, 8.067, 5, 0.0, 56.5)
ax1 = make_axes((41, 70, 622, 455), (STAMP_BASE, STAMP_BASE + 56.5),
                (STAMP_BASE - 0.7, STAMP_BASE + 57.4), (-8.22, 6.01),
                maj, mnr, 2, 1, fmt_g, fmt_g)
dots(ax1, AX_PTS, RED)
dots(ax1, AY_PTS, CYAN)
dots(ax1, AZ_PTS, GREEN)
area(ax1, AXINT_PTS, PURPLE)
lines(ax1, AYINT_PTS, AMBER, 1.0)
lines(ax1, AZINT_PTS, BLUE, 1.2)
finish(ax1)

# ---------------------------------------------------------------- panel 2
maj, mnr = stamp_ticks(1.8, 12.87, 5, 0.0, 55.2)
ax2 = make_axes((702, 70, 1268, 455), (STAMP_BASE, STAMP_BASE + 55.2),
                (STAMP_BASE - 0.6, STAMP_BASE + 56.0), (-0.4233, 0.7433),
                maj, mnr, 0.2, 0.05, fmt_g, fmt_g)
t2 = STAMP_BASE + np.array(ODOM_T)
sns.scatterplot(x=t2, y=ODOM_X, ax=ax2, color=RED, marker="s", s=5.5, linewidth=0, legend=False)
sns.scatterplot(x=t2, y=ODOM_Y, ax=ax2, color=CYAN, marker="s", s=5.5, linewidth=0, legend=False)
sns.scatterplot(x=t2, y=ODOM_Z, ax=ax2, color=GREEN, marker="s", s=5.5, linewidth=0, legend=False)
ax2.vlines(t2, 0, ODOM_VX, color=PURPLE, linewidth=0.9)
ax2.vlines(t2, 0, ODOM_VY, color=AMBER, linewidth=0.9)
ax2.vlines(t2, 0, ODOM_VZ, color=BLUE, linewidth=0.9)
finish(ax2)

# ---------------------------------------------------------------- panel 3
maj, mnr = stamp_ticks(13.0, 13.23, 5, 0.0, 55.6)
ax3 = make_axes((52, 591.5, 622, 977), (STAMP_BASE, STAMP_BASE + 55.6),
                (STAMP_BASE - 0.6, STAMP_BASE + 56.4), (-1.243, 2.12),
                maj, mnr, 0.5, 0.1, fmt_g, fmt_g)
lines(ax3, F_X_PTS, RED, 2.2)
lines(ax3, F_Y_PTS, CYAN, 2.2)
lines(ax3, F_Z_PTS, GREEN, 2.2)
area(ax3, F_VX_PTS, PURPLE)
lines(ax3, F_VY_PTS, AMBER, 0.9)
lines(ax3, F_VZ_PTS, BLUE, 1.1)
finish(ax3)

# ---------------------------------------------------------------- panel 4
ax4 = make_axes((713, 591, 1274, 977), (0, 1000), (-12.8, 1014.7), (0, 1000),
                list(range(0, 1001, 200)), list(range(0, 1001, 50)), 200, 50,
                fmt_comma, fmt_comma)
finish(ax4)

# ---------------------------------------------------------------- texts
for title, (cx, cy) in zip(TITLES, [(315, 10), (965, 10), (315, 531), (965, 531)]):
    fig.text(fx(cx), fy(cy), title, ha="center", va="center", fontsize=10.4, color=INK)

legend(LEGEND_1, [RED, CYAN, GREEN, PURPLE, AMBER, BLUE], 331, 38)
legend(LEGEND_2, [RED, CYAN, GREEN, PURPLE, AMBER, BLUE], 986, 38)
legend(LEGEND_3, [RED, CYAN, GREEN, PURPLE, AMBER, BLUE], 335, 560)
legend(LEGEND_4, [RED, CYAN, GREEN, PURPLE, AMBER, BLUE, SPRING, ROSE], 990, 560)

for lab, (cx, cy) in zip(XLABELS, [(319, 495.5), (978, 495.5), (341, 1016.5), (997, 1016.5)]):
    fig.text(fx(cx), fy(cy), lab, ha="center", va="center", fontsize=9.2, color=INK)

fig.text(fx(7.5), fy(262), YLABELS[0], rotation=90, ha="center", va="center", fontsize=9.2, color=INK)
fig.text(fx(659), fy(262), YLABELS[1], rotation=90, ha="center", va="center", fontsize=9.2, color=INK)
fig.text(fx(659), fy(784), YLABELS[3], rotation=90, ha="center", va="center", fontsize=9.2, color=INK)
ylab3 = fig.text(fx(8), fy(775), YLABELS[2], rotation=90, ha="center", va="center",
                 fontsize=9.2, color=INK, clip_on=True)
ylab3.set_clip_box(TransformedBbox(Bbox([[0.0, fy(977)], [fx(40), fy(591)]]), fig.transFigure))

fig.savefig("out.png", dpi=100, facecolor="white")
